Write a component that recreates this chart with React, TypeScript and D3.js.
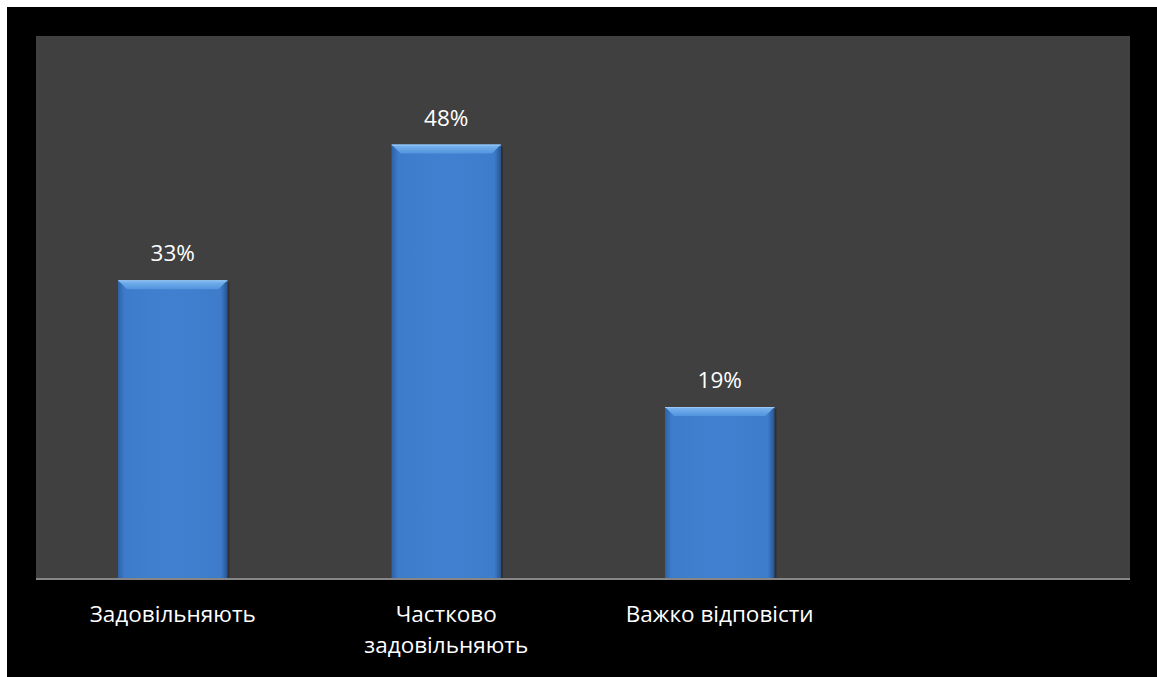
import React from "react";
import * as d3 from "d3";

const categories = ["Задовільняють", "Частково\nзадовільняють", "Важко відповісти", ""];
const values = [33, 48, 19, null];
const valueLabels = ["33%", "48%", "19%", ""];
const yMax = 60;

const W = 1157;
const H = 677;
const plot = { left: 36, top: 36, right: 1130, bottom: 579 };

export default function App() {
  const x = d3
    .scaleBand<string>()
    .domain(categories.map((c, i) => String(i)))
    .range([plot.left, plot.right])
    .paddingInner(0.6)
    .paddingOuter(0.3);
  const y = d3.scaleLinear().domain([0, yMax]).range([plot.bottom, plot.top]);
  const bw = x.bandwidth();
  const bevel = 9;

  return (
    <svg
      width={W}
      height={H}
      style={{ position: "absolute", left: 0, top: 0, display: "block" }}
      fontFamily="'Open Sans', 'Noto Sans', sans-serif"
    >
      <defs>
        <linearGradient id="barH" x1="0" x2="1" y1="0" y2="0">
          <stop offset="0" stopColor="#2d62a8" />
          <stop offset="0.06" stopColor="#3e7bcb" />
          <stop offset="0.5" stopColor="#4180d0" />
          <stop offset="0.94" stopColor="#3e7bcb" />
          <stop offset="1" stopColor="#27558f" />
        </linearGradient>
        <linearGradient id="bevelTop" x1="0" x2="0" y1="0" y2="1">
          <stop offset="0" stopColor="#7cb6f0" />
          <stop offset="1" stopColor="#5193de" />
        </linearGradient>
      </defs>
      <rect x={0} y={0} width={W} height={H} fill="#ffffff" />
      <rect x={7} y={7} width={W - 7} height={H - 7} fill="#000000" />
      <rect
        x={plot.left}
        y={plot.top}
        width={plot.right - plot.left}
        height={plot.bottom - plot.top}
        fill="#404040"
      />
      {values.map((v, i) => {
        if (v == null) return null;
        const bx = x(String(i))!;
        const by = y(v);
        const bh = plot.bottom - by;
        return (
          <g key={i}>
            <rect x={bx + 2} y={by + 2} width={bw} height={bh - 2} fill="#000" opacity={0.25} />
            <rect x={bx} y={by} width={bw} height={bh} fill="url(#barH)" />
            <polygon
              points={`${bx},${by} ${bx + bw},${by} ${bx + bw - bevel},${by + bevel} ${bx + bevel},${by + bevel}`}
              fill="url(#bevelTop)"
            />
            <line x1={bx} x2={bx + bw} y1={by + 0.5} y2={by + 0.5} stroke="#9cc8f5" strokeWidth={1} />
            <text
              x={bx + bw / 2}
              y={by - 19}
              textAnchor="middle"
              fill="#ffffff"
              fontSize={22.5}
            >
              {valueLabels[i]}
            </text>
          </g>
        );
      })}
      <line
        x1={plot.left}
        x2={plot.right}
        y1={plot.bottom}
        y2={plot.bottom}
        stroke="#868686"
        strokeWidth={2}
      />
      {categories.map((c, i) => {
        const cx = x(String(i))! + bw / 2;
        const lines = c.split("\n");
        return (
          <text key={i} x={cx} y={622} textAnchor="middle" fill="#ffffff" fontSize={22.5}>
            {lines.map((l, j) => (
              <tspan key={j} x={cx} dy={j === 0 ? 0 : 31}>
                {l}
              </tspan>
            ))}
          </text>
        );
      })}
    </svg>
  );
}
